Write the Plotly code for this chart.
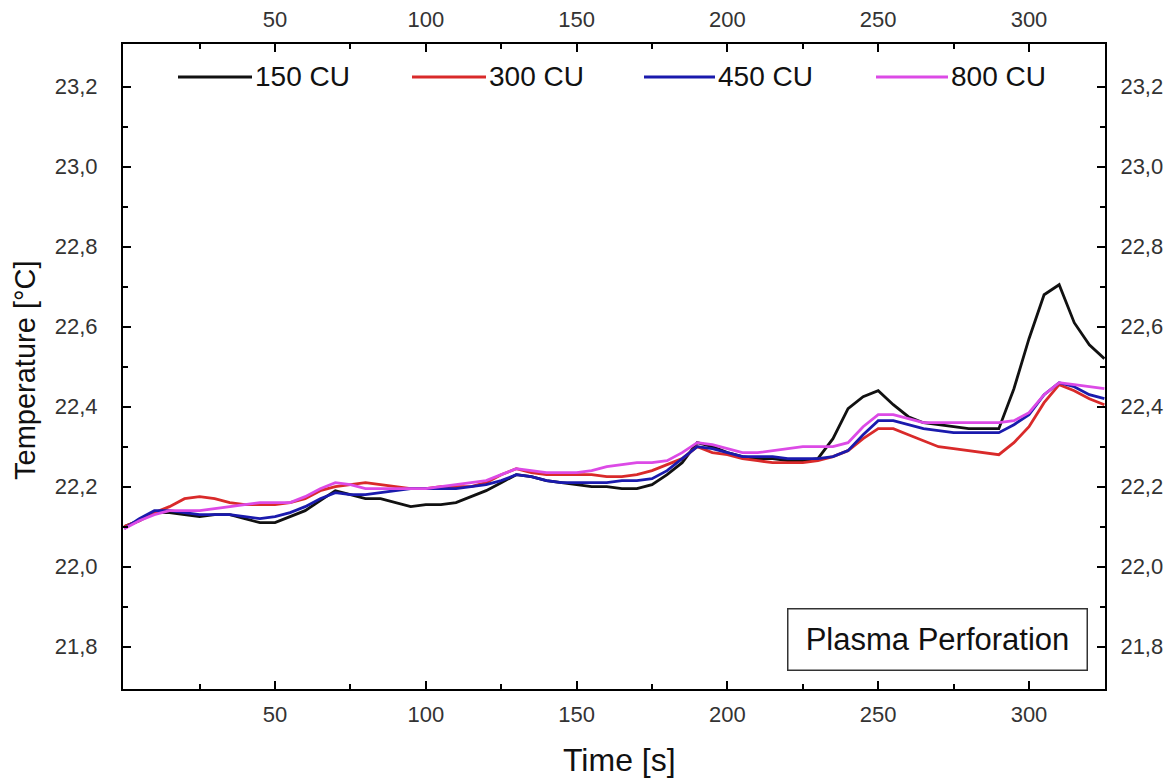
import plotly.graph_objects as go

# ---- data ----
time_s = [0, 5, 10, 15, 20, 25, 30, 35, 40, 45, 50, 55, 60, 65, 70, 75, 80, 85, 90, 95,
          100, 105, 110, 115, 120, 125, 130, 135, 140, 145, 150, 155, 160, 165, 170, 175,
          180, 185, 190, 195, 200, 205, 210, 215, 220, 225, 230, 235, 240, 245, 250, 255,
          260, 265, 270, 275, 280, 285, 290, 295, 300, 305, 310, 315, 320, 325]

cu150 = [22.10, 22.115, 22.135, 22.135, 22.13, 22.125, 22.13, 22.13, 22.12, 22.11,
         22.11, 22.125, 22.14, 22.165, 22.19, 22.18, 22.17, 22.17, 22.16, 22.15,
         22.155, 22.155, 22.16, 22.175, 22.19, 22.21, 22.23, 22.225, 22.215, 22.21,
         22.205, 22.20, 22.20, 22.195, 22.195, 22.205, 22.23, 22.26, 22.31, 22.30,
         22.285, 22.275, 22.27, 22.27, 22.265, 22.265, 22.27, 22.32, 22.395, 22.425,
         22.44, 22.405, 22.375, 22.36, 22.355, 22.35, 22.345, 22.345, 22.345, 22.445,
         22.57, 22.68, 22.705, 22.61, 22.555, 22.52]

cu300 = [22.10, 22.115, 22.135, 22.15, 22.17, 22.175, 22.17, 22.16, 22.155, 22.155,
         22.155, 22.16, 22.17, 22.19, 22.20, 22.205, 22.21, 22.205, 22.20, 22.195,
         22.195, 22.20, 22.20, 22.20, 22.21, 22.23, 22.245, 22.235, 22.23, 22.23,
         22.23, 22.23, 22.225, 22.225, 22.23, 22.24, 22.255, 22.27, 22.30, 22.285,
         22.28, 22.27, 22.265, 22.26, 22.26, 22.26, 22.265, 22.275, 22.29, 22.32,
         22.345, 22.345, 22.33, 22.315, 22.30, 22.295, 22.29, 22.285, 22.28, 22.31,
         22.35, 22.41, 22.455, 22.44, 22.42, 22.405]

cu450 = [22.095, 22.12, 22.14, 22.14, 22.135, 22.13, 22.13, 22.13, 22.125, 22.12,
         22.125, 22.135, 22.15, 22.17, 22.185, 22.18, 22.18, 22.185, 22.19, 22.195,
         22.195, 22.195, 22.195, 22.20, 22.205, 22.215, 22.23, 22.225, 22.215, 22.21,
         22.21, 22.21, 22.21, 22.215, 22.215, 22.22, 22.24, 22.27, 22.30, 22.295,
         22.285, 22.275, 22.275, 22.275, 22.27, 22.27, 22.27, 22.275, 22.29, 22.33,
         22.365, 22.365, 22.355, 22.345, 22.34, 22.335, 22.335, 22.335, 22.335, 22.355,
         22.38, 22.43, 22.46, 22.45, 22.43, 22.42]

cu800 = [22.095, 22.115, 22.13, 22.14, 22.14, 22.14, 22.145, 22.15, 22.155, 22.16,
         22.16, 22.16, 22.175, 22.195, 22.21, 22.205, 22.195, 22.195, 22.195, 22.195,
         22.195, 22.20, 22.205, 22.21, 22.215, 22.23, 22.245, 22.24, 22.235, 22.235,
         22.235, 22.24, 22.25, 22.255, 22.26, 22.26, 22.265, 22.285, 22.31, 22.305,
         22.295, 22.285, 22.285, 22.29, 22.295, 22.30, 22.30, 22.30, 22.31, 22.35,
         22.38, 22.38, 22.37, 22.36, 22.36, 22.36, 22.36, 22.36, 22.36, 22.365,
         22.385, 22.43, 22.46, 22.455, 22.45, 22.445]

series_names = ["150 CU", "300 CU", "450 CU", "800 CU"]
series_values = [cu150, cu300, cu450, cu800]
series_colors = ["#111111", "#d92a2a", "#1a1aad", "#dc4ae6"]

x_ticks = [50, 100, 150, 200, 250, 300]
x_minor = [25, 75, 125, 175, 225, 275]
y_ticks = [21.8, 22.0, 22.2, 22.4, 22.6, 22.8, 23.0, 23.2]
y_minor = [21.9, 22.1, 22.3, 22.5, 22.7, 22.9, 23.1]
x_range = [-0.4, 325.2]
y_range = [21.694, 23.307]

FONT = "Liberation Sans, Arial, sans-serif"

fig = go.Figure()
for name, vals, col in zip(series_names, series_values, series_colors):
    fig.add_trace(go.Scatter(x=time_s, y=vals, mode="lines", name=name,
                             line=dict(color=col, width=2.8), showlegend=False))

# invisible trace to activate the mirrored top/right axes
fig.add_trace(go.Scatter(x=time_s, y=cu150, xaxis="x2", yaxis="y2", mode="lines",
                         line=dict(width=0), opacity=0, showlegend=False, hoverinfo="skip"))

axis_common = dict(showgrid=False, zeroline=False, showline=True, linecolor="black",
                   linewidth=2, ticks="inside", ticklen=8, tickwidth=2, tickcolor="black",
                   automargin=False,
                   tickfont=dict(family=FONT, size=22, color="#333333"))
minor_common = dict(ticks="inside", ticklen=5, tickwidth=2, tickcolor="black")

fig.update_layout(
    width=1168, height=778,
    margin=dict(l=123, r=63, t=44, b=89, autoexpand=False),
    paper_bgcolor="white", plot_bgcolor="white",
    separators=",.",
    showlegend=False,
    xaxis=dict(range=x_range, tickvals=x_ticks, ticklabelstandoff=5,
               minor=dict(tickvals=x_minor, **minor_common), **axis_common),
    xaxis2=dict(range=x_range, tickvals=x_ticks, overlaying="x", side="top", anchor="y2",
                ticklabelstandoff=6,
                minor=dict(tickvals=x_minor, **minor_common), **axis_common),
    yaxis=dict(range=y_range, tickvals=y_ticks, tickformat=".1f", ticklabelstandoff=19,
               minor=dict(tickvals=y_minor, **minor_common), **axis_common),
    yaxis2=dict(range=y_range, tickvals=y_ticks, tickformat=".1f", overlaying="y", side="right",
                anchor="x2", ticklabelstandoff=9,
                minor=dict(tickvals=y_minor, **minor_common), **axis_common),
)

# axis titles
fig.add_annotation(text="Time [s]", xref="paper", yref="paper", x=0.506, y=-0.110,
                   showarrow=False, font=dict(family=FONT, size=32, color="#111111"),
                   xanchor="center", yanchor="middle")
fig.add_annotation(text="Temperature [°C]", xref="paper", yref="paper", x=-0.0998, y=0.4946,
                   showarrow=False, textangle=-90, font=dict(family=FONT, size=29, color="#111111"),
                   xanchor="center", yanchor="middle")

# legend drawn inside the plot (line sample + label)
leg_line_x = [(178, 252), (412, 486), (644, 715), (876, 948)]
leg_y = (689 - 77) / 645
for (x0, x1), name, col in zip(leg_line_x, series_names, series_colors):
    fig.add_shape(type="line", xref="paper", yref="paper",
                  x0=(x0 - 123) / 982, x1=(x1 - 123) / 982, y0=leg_y, y1=leg_y,
                  line=dict(color=col, width=3.2))
    fig.add_annotation(text=name, xref="paper", yref="paper", x=(x1 + 1 - 123) / 982, y=leg_y,
                       showarrow=False, xanchor="left", yanchor="middle",
                       font=dict(family=FONT, size=28, color="#111111"))

# label box
fig.add_annotation(text="Plasma Perforation", xref="paper", yref="paper",
                   x=(1088 - 123) / 982, y=(689 - 671) / 645, xanchor="right", yanchor="bottom",
                   showarrow=False, font=dict(family=FONT, size=31, color="#111111"),
                   bordercolor="#333333", borderwidth=1.5, borderpad=2, width=294, height=56,
                   bgcolor="white", align="center")

fig.write_html("out.html")
